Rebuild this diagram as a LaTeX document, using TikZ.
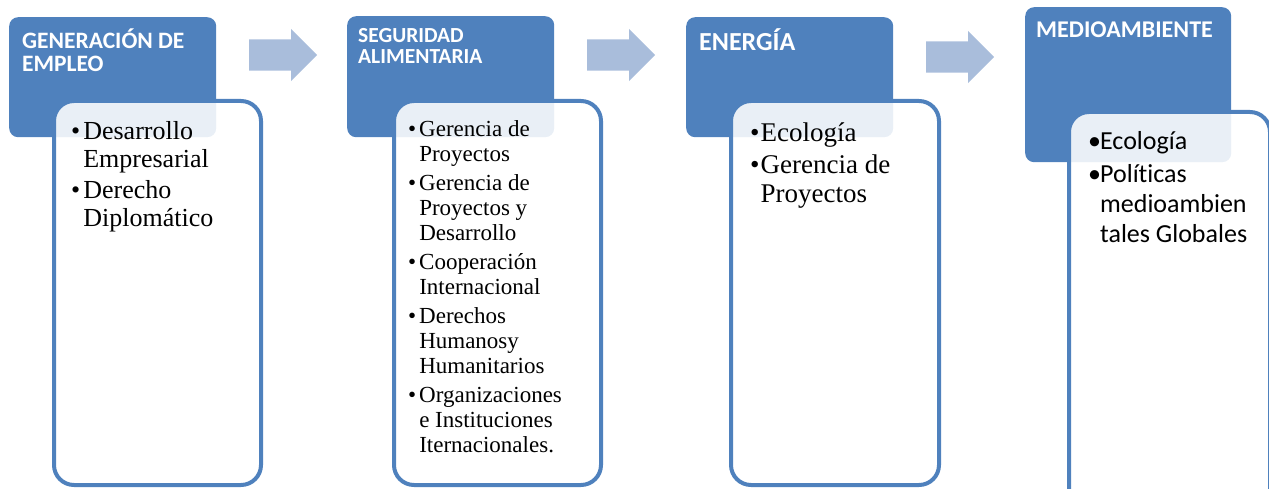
\documentclass[tikz,border=0pt]{standalone}
\usepackage{fontspec}
\setmainfont{Liberation Serif}
\newfontfamily\calibri[Ligatures=NoCommon]{Carlito}
\usetikzlibrary{shapes.arrows}

\definecolor{azulcab}{HTML}{4F81BD}
\definecolor{azulflecha}{HTML}{A9BDDB}

\tikzset{
  cabecera/.style={fill=azulcab, rounded corners=9pt, anchor=north west, inner sep=0pt, minimum width=207pt},
  contenido/.style={draw=azulcab, line width=4pt, fill=white, fill opacity=.88, rounded corners=20pt, anchor=north west, inner sep=0pt, minimum width=207pt},
  flecha/.style={single arrow, fill=azulflecha, anchor=tail, inner xsep=0pt, inner ysep=15.5pt, minimum height=68pt, single arrow head extend=10.5pt},
  titulo/.style={anchor=base west, inner sep=0pt, text=white},
  lista/.style={anchor=base west, inner sep=0pt}
}

\begin{document}
\begin{tikzpicture}[x=1pt, y=-1pt]
\useasboundingbox (0,0) rectangle (1269,489);
\clip (0,0) rectangle (1269,489);

% cabeceras
\node[cabecera, minimum height=120pt] (cab1) at (9,17) {};
\node[cabecera, minimum height=121pt] (cab2) at (347,16) {};
\node[cabecera, minimum height=120pt] (cab3) at (686,17) {};
\node[cabecera, minimum height=155pt, minimum width=206pt] (cab4) at (1025,7) {};

% cajas de contenido
\node[contenido, minimum height=384pt] (cont1) at (52,99) {};
\node[contenido, minimum height=384pt] (cont2) at (392,99) {};
\node[contenido, minimum height=384pt, minimum width=208pt] (cont3) at (729,99) {};
\node[contenido, minimum height=400pt, minimum width=201pt] (cont4) at (1067,110) {};

% flechas
\node[flecha] (flecha1) at (249,55) {};
\node[flecha] (flecha2) at (587,55) {};
\node[flecha] (flecha3) at (926,57) {};

% titulos
\node[titulo, font=\calibri\bfseries\fontsize{23.5}{23}\selectfont] (tit1) at (22,49)
  {\begin{tabular}[t]{@{}l@{}}GENERACIÓN DE\\EMPLEO\end{tabular}};
\node[titulo, font=\calibri\bfseries\fontsize{21.5}{21}\selectfont] (tit2) at (358,43)
  {\begin{tabular}[t]{@{}l@{}}SEGURIDAD\\ALIMENTARIA\end{tabular}};
\node[titulo, font=\calibri\bfseries\fontsize{26}{26}\selectfont] (tit3) at (699,51) {ENERGÍA};
\node[titulo, font=\calibri\bfseries\fontsize{24}{24}\selectfont] (tit4) at (1036,38) {MEDIOAMBIENTE};

% listas
\node[lista, font=\fontsize{26}{28}\selectfont] (lista1) at (71,140)
  {\begin{tabular}[t]{@{}l@{\hspace{3pt}}l@{}}
   \textbullet & Desarrollo\\ & Empresarial\\[3pt]
   \textbullet & Derecho\\ & Diplomático
   \end{tabular}};
\node[lista, font=\fontsize{23}{25}\selectfont] (lista2) at (408,137)
  {\begin{tabular}[t]{@{}l@{\hspace{3pt}}l@{}}
   \textbullet & Gerencia de\\ & Proyectos\\[4pt]
   \textbullet & Gerencia de\\ & Proyectos y\\ & Desarrollo\\[4pt]
   \textbullet & Cooperación\\ & Internacional\\[4pt]
   \textbullet & Derechos\\ & Humanosy\\ & Humanitarios\\[4pt]
   \textbullet & Organizaciones\\ & e Instituciones\\ & Iternacionales.
   \end{tabular}};
\node[lista, font=\fontsize{27}{29}\selectfont] (lista3) at (750,142)
  {\begin{tabular}[t]{@{}l@{\hspace{1pt}}l@{}}
   \textbullet & Ecología\\[3pt]
   \textbullet & Gerencia de\\ & Proyectos
   \end{tabular}};
\node[lista, font=\calibri\fontsize{26}{30}\selectfont] (lista4) at (1088,150)
  {\begin{tabular}[t]{@{}l@{\hspace{-1pt}}l@{}}
   \textbullet & Ecología\\[3pt]
   \textbullet & Políticas\\ & medioambien\\ & tales Globales
   \end{tabular}};

\end{tikzpicture}
\end{document}
